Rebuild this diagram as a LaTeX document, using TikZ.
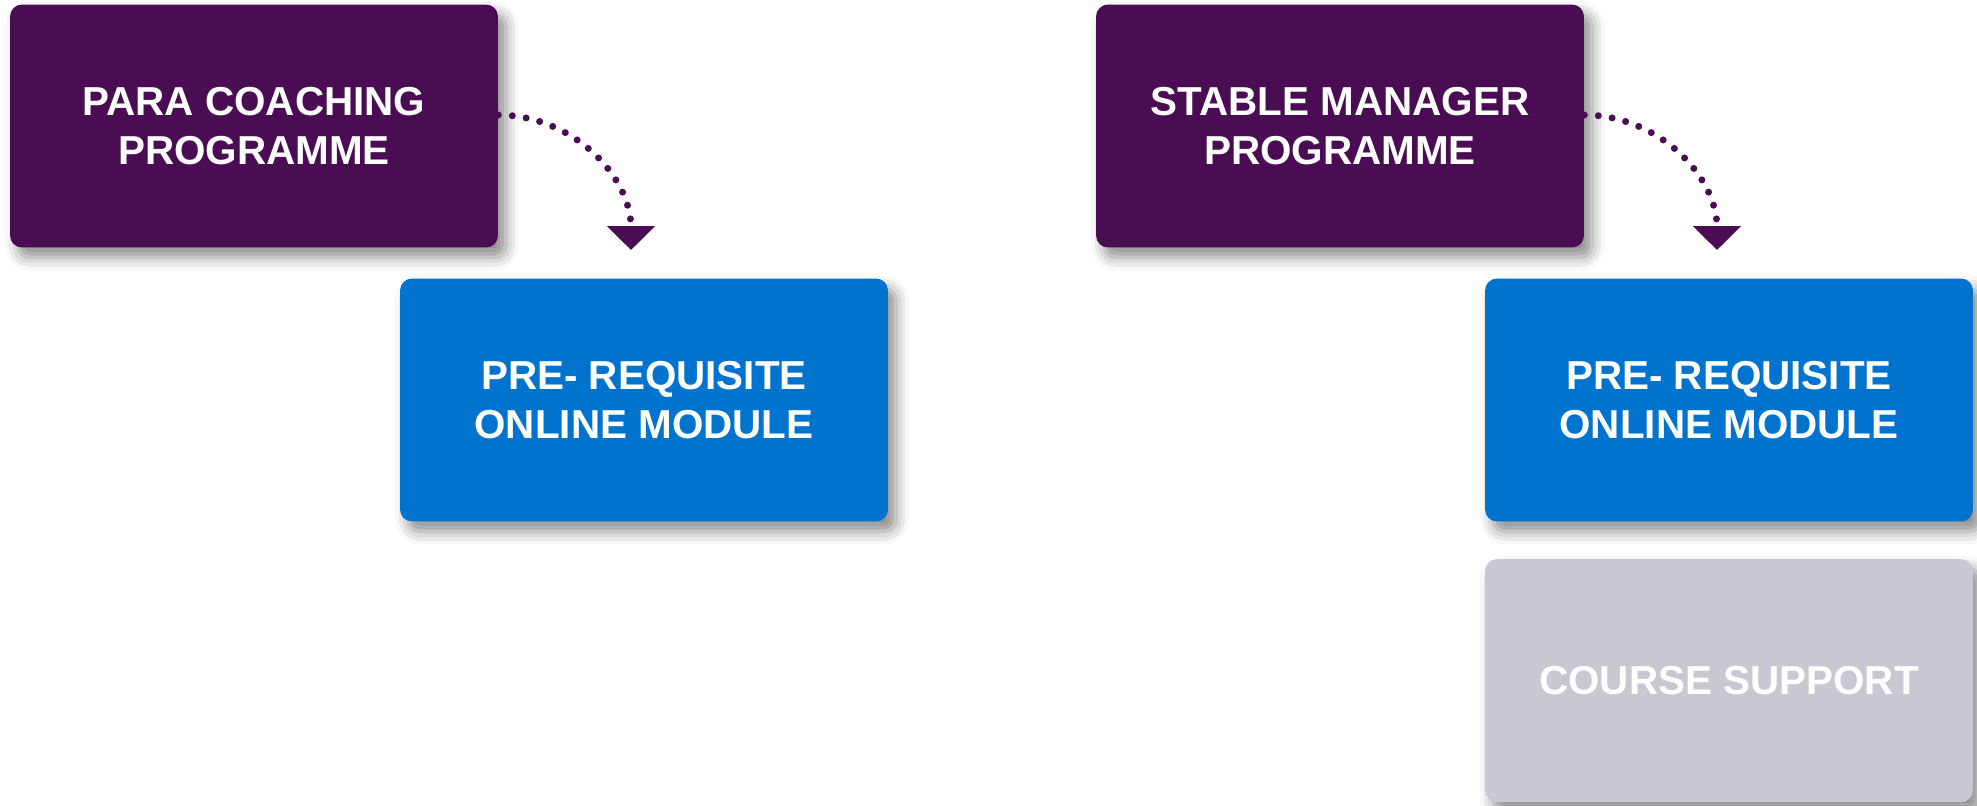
\documentclass[tikz,border=0pt]{standalone}
\usepackage{fontspec}
\setmainfont{Liberation Sans}
\usetikzlibrary{arrows.meta, positioning, shadows.blur}

\definecolor{progpurple}{RGB}{74,12,82}
\definecolor{moduleblue}{RGB}{0,115,207}
\definecolor{supportgray}{RGB}{200,200,211}

\begin{document}
\begin{tikzpicture}[
  x=0.02cm, y=-0.02cm,
  % Base style for boxes
  basebox/.style={rounded corners=0.24cm, minimum width=9.76cm, minimum height=4.86cm,
    inner sep=0pt, align=center, text=white, font=\fontsize{23}{27.5}\selectfont\bfseries,
    blur shadow={shadow xshift=0.16cm, shadow yshift=-0.2cm, shadow blur radius=0.26cm, shadow opacity=45}},
  % Styles inheriting from basebox
  progbox/.style={basebox, fill=progpurple},
  modbox/.style={basebox, fill=moduleblue},
  supbox/.style={basebox, fill=supportgray},
  % Dotted link
  linkarrow/.style={progpurple, line width=0.14cm, line cap=round, dash pattern=on 0pt off 0.28cm,
    -{Triangle[width=0.94cm, length=0.48cm]}}
]
  \useasboundingbox (0,0) rectangle (1977,805);

  % Left column
  \node[progbox] (para) at (254,126) {PARA COACHING\\PROGRAMME};
  \node[modbox] (prereqA) at (644,400) {PRE- REQUISITE\\ONLINE MODULE};
  \coordinate (tipA) at (631,250);

  % Right column
  \node[progbox] (stable) at (1340,126) {STABLE MANAGER\\PROGRAMME};
  \node[modbox] (prereqB) at (1729,400) {PRE- REQUISITE\\ONLINE MODULE};
  \node[supbox, below=0.74cm of prereqB] (support) {COURSE SUPPORT};
  \coordinate (tipB) at (1717,250);

  % Links
  \draw[linkarrow] ([yshift=0.22cm]para.east) to[out=0, in=90] (tipA);
  \draw[linkarrow] ([yshift=0.22cm]stable.east) to[out=0, in=90] (tipB);

\end{tikzpicture}
\end{document}
